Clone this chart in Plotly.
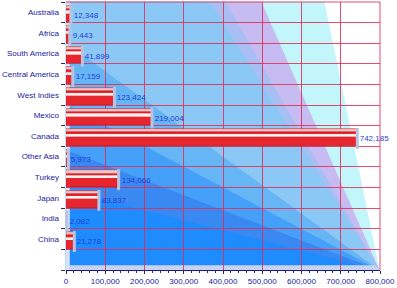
import plotly.graph_objects as go

categories = ["Australia", "Africa", "South America", "Central America", "West Indies",
              "Mexico", "Canada", "Other Asia", "Turkey", "Japan", "India", "China"]
values = [12348, 9443, 41899, 17159, 123424, 219004, 742185, 5973, 134066, 83837, 2082, 21278]
value_labels = ["12,348", "9,443", "41,899", "17,159", "123,424", "219,004", "742,185",
                "5,973", "134,066", "83,837", "2,082", "21,278"]
x_ticks = [0, 100000, 200000, 300000, 400000, 500000, 600000, 700000, 800000]
x_tick_labels = ["0", "100,000", "200,000", "300,000", "400,000", "500,000", "600,000", "700,000", "800,000"]

n = len(categories)
ypos = [n - i for i in range(n)]  # Australia at top, empty slot at 0

FONT = "Liberation Sans, Arial, sans-serif"
GRID = "rgba(225,45,85,0.85)"

fig = go.Figure()

# front face of bars
fig.add_trace(go.Bar(
    orientation="h", x=values, y=ypos, width=0.66, offset=-0.48,
    marker=dict(color="#e6252c", line=dict(color="#b01018", width=0.6)),
    text=value_labels, textposition="outside", cliponaxis=False,
    textfont=dict(family=FONT, size=8, color="#1f3fd6"),
    hoverinfo="skip", showlegend=False,
))
# highlight streak on the front face
fig.add_trace(go.Bar(
    orientation="h", x=values, y=ypos, width=0.16, offset=-0.06,
    marker=dict(color="#ffaaaa", line=dict(width=0)),
    hoverinfo="skip", showlegend=False,
))
fig.add_trace(go.Bar(
    orientation="h", x=values, y=ypos, width=0.05, offset=0.0,
    marker=dict(color="#fff0f0", line=dict(width=0)),
    hoverinfo="skip", showlegend=False,
))
# top face
fig.add_trace(go.Bar(
    orientation="h", x=values, y=ypos, width=0.15, offset=0.18,
    marker=dict(color="#f6c4c4", line=dict(color="#c02028", width=0.6)),
    hoverinfo="skip", showlegend=False,
))
# end caps
fig.add_trace(go.Scatter(
    x=values, y=[p - 0.12 for p in ypos], mode="markers",
    marker=dict(symbol="line-ns", size=15, line=dict(color="#b9c3e0", width=3)),
    hoverinfo="skip", showlegend=False, cliponaxis=False,
))

# background fan bands from bottom-right corner
bands = [
    ([(0, 0), (0, 0.30)], "#1e8cff"),
    ([(0, 0.30), (0, 0.45)], "#3a88f2"),
    ([(0, 0.45), (0, 0.62)], "#45a0fa"),
    ([(0, 0.62), (0, 0.85)], "#66b6f6"),
    ([(0, 0.85), (0, 1), (0.46, 1)], "#8cc8f6"),
    ([(0.46, 1), (0.51, 1)], "#a9bff3"),
    ([(0.51, 1), (0.624, 1)], "#c6bcf1"),
    ([(0.624, 1), (0.825, 1)], "#c2f6fb"),
    ([(0.825, 1), (1, 1)], "#ffffff"),
]
shapes = []
for seg, col in bands:
    path = "M 1 0 " + " ".join(f"L {x} {y}" for x, y in seg) + " Z"
    shapes.append(dict(type="path", path=path, xref="x domain", yref="y domain",
                       fillcolor=col, line=dict(color=col, width=1), layer="below"))
# floor and left wall (3D look)
shapes.append(dict(type="path", path="M 0 0 L 1 0 L 0.985 0.018 L 0.012 0.018 Z",
                   xref="x domain", yref="y domain", fillcolor="#c8d4ee",
                   line=dict(width=0), layer="below"))
shapes.append(dict(type="rect", x0=-0.002, x1=0.012, y0=0, y1=1,
                   xref="x domain", yref="y domain", fillcolor="#d8e2f4",
                   line=dict(width=0), layer="below"))
shapes.append(dict(type="line", x0=0, x1=1, y0=1, y1=1, xref="x domain", yref="y domain",
                   line=dict(color=GRID, width=1)))
shapes.append(dict(type="line", x0=1, x1=1, y0=0, y1=1, xref="x domain", yref="y domain",
                   line=dict(color=GRID, width=1)))

fig.update_layout(
    width=397, height=288,
    margin=dict(l=66, r=17, t=2, b=18),
    paper_bgcolor="white", plot_bgcolor="white",
    barmode="overlay", bargap=0,
    shapes=shapes,
    font=dict(family=FONT, size=8, color="#1a1aa0"),
    xaxis=dict(range=[0, 800000], tickvals=x_ticks, ticktext=x_tick_labels,
               showgrid=True, gridcolor=GRID, gridwidth=1, zeroline=False,
               ticks="outside", ticklen=3, tickcolor="#303050",
               minor=dict(dtick=20000, ticks="outside", ticklen=2, tickcolor="#303050", showgrid=False),
               tickfont=dict(family=FONT, size=8, color="#1a1aa0"),
               showline=True, linecolor="#1a1aa0", linewidth=1, fixedrange=True),
    yaxis=dict(range=[-0.5, n + 0.5], tickvals=ypos, ticktext=categories,
               showgrid=False, zeroline=False, ticks="", ticklabelstandoff=6,
               minor=dict(tick0=0.5, dtick=1, showgrid=True, gridcolor=GRID, gridwidth=1,
                          ticks="outside", ticklen=4, tickcolor="#303050"),
               tickfont=dict(family=FONT, size=8, color="#1a1aa0"),
               showline=False, fixedrange=True),
)

fig.write_html("out.html")
